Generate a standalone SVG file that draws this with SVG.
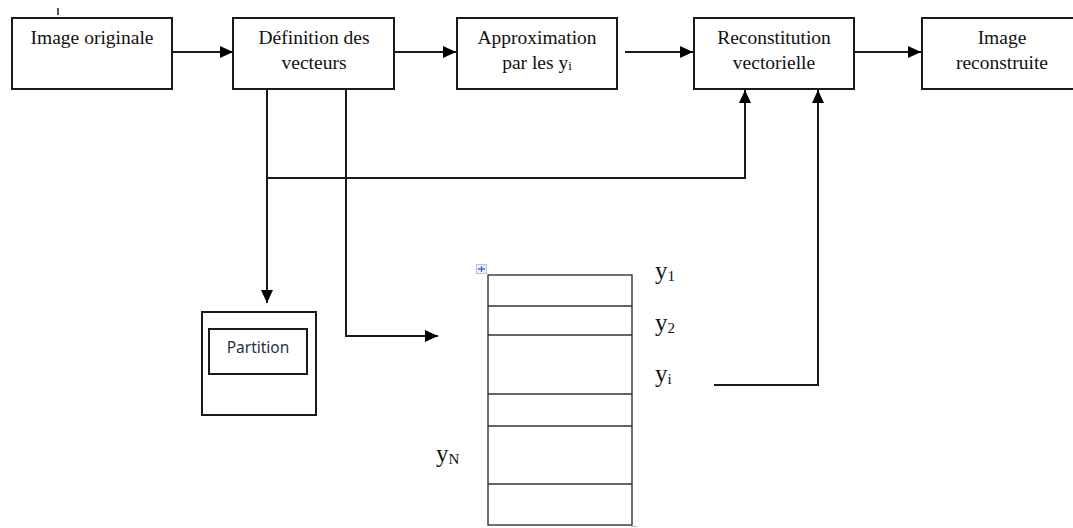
<svg xmlns="http://www.w3.org/2000/svg" width="1073" height="528" viewBox="0 0 1073 528">
  <defs>
    <marker id="arrow" viewBox="0 0 13 12" refX="13" refY="6" markerWidth="13" markerHeight="12" markerUnits="userSpaceOnUse" orient="auto">
      <path d="M0,0 L13,6 L0,12 Z" fill="#000"/>
    </marker>
    <style>
      .box { fill: #fff; stroke: #1a1a1a; stroke-width: 2; }
      .lbl { font-family: "Liberation Serif", "Times New Roman", serif; font-size: 19.5px; fill: #111; text-anchor: middle; }
      .sub { font-size: 13px; }
      .conn { fill: none; stroke: #1a1a1a; stroke-width: 2; }
      .row { fill: none; stroke: #333; stroke-width: 1.4; }
      .yl { font-family: "Liberation Serif", "Times New Roman", serif; font-size: 25px; fill: #111; }
      .ys { font-size: 15px; }
      .part { font-family: "Noto Sans", "Liberation Sans", sans-serif; font-size: 15.5px; fill: #26324a; text-anchor: middle; }
    </style>
  </defs>
  <rect width="1073" height="528" fill="#fff"/>

  <!-- small tick above first box -->
  <line x1="58" y1="8" x2="58" y2="15" stroke="#222" stroke-width="1.5"/>

  <g id="node-image-originale">
    <rect class="box" x="12" y="18" width="160" height="71"/>
    <text class="lbl" x="92" y="44">Image originale</text>
  </g>

  <g id="node-definition">
    <rect class="box" x="233" y="18" width="161" height="71"/>
    <text class="lbl" x="314" y="44">Définition des</text>
    <text class="lbl" x="314" y="69">vecteurs</text>
  </g>

  <g id="node-approximation">
    <rect class="box" x="457" y="18" width="160" height="71"/>
    <text class="lbl" x="537" y="44">Approximation</text>
    <text class="lbl" x="537" y="69">par les y<tspan class="sub" dy="1">i</tspan></text>
  </g>

  <g id="node-reconstitution">
    <rect class="box" x="694" y="18" width="160" height="71"/>
    <text class="lbl" x="774" y="44">Reconstitution</text>
    <text class="lbl" x="774" y="69">vectorielle</text>
  </g>

  <g id="node-image-reconstruite">
    <rect class="box" x="922" y="18" width="170" height="71"/>
    <text class="lbl" x="1002" y="44">Image</text>
    <text class="lbl" x="1002" y="69">reconstruite</text>
  </g>

  <g id="node-partition">
    <rect class="box" x="202" y="312" width="114" height="103"/>
    <rect class="box" x="209" y="329" width="98" height="45"/>
    <text class="part" x="258" y="353">Partition</text>
  </g>

  <g id="node-codebook">
    <!-- table move handle -->
    <rect x="476.5" y="264.5" width="10" height="9" fill="#eef2f8" stroke="#b8c4d6" stroke-width="1"/>
    <path d="M481.5,266 V272 M478,269 H485" stroke="#3a6fd0" stroke-width="1.3"/>
    <rect class="row" x="488" y="275" width="144" height="250"/>
    <line class="row" x1="488" y1="306" x2="632" y2="306"/>
    <line class="row" x1="488" y1="335" x2="632" y2="335"/>
    <line class="row" x1="488" y1="394" x2="632" y2="394"/>
    <line class="row" x1="488" y1="426" x2="632" y2="426"/>
    <line class="row" x1="488" y1="484" x2="632" y2="484"/>
    <line x1="631" y1="526.5" x2="637" y2="526.5" stroke="#bbb" stroke-width="1"/>
    <text class="yl" x="655" y="279">y<tspan class="ys" dy="2">1</tspan></text>
    <text class="yl" x="655" y="331">y<tspan class="ys" dy="2">2</tspan></text>
    <text class="yl" x="655" y="382">y<tspan class="ys" dy="2">i</tspan></text>
    <text class="yl" x="436" y="462">y<tspan class="ys" dy="2">N</tspan></text>
  </g>

  <g id="connectors">
    <line class="conn" x1="172" y1="52" x2="233" y2="52" marker-end="url(#arrow)"/>
    <line class="conn" x1="394" y1="52" x2="456" y2="52" marker-end="url(#arrow)"/>
    <line class="conn" x1="625" y1="52" x2="693" y2="52" marker-end="url(#arrow)"/>
    <line class="conn" x1="855" y1="52" x2="921" y2="52" marker-end="url(#arrow)"/>
    <!-- definition -> partition -->
    <line class="conn" x1="267" y1="89" x2="267" y2="303" marker-end="url(#arrow)"/>
    <!-- definition -> reconstitution (feedback) -->
    <polyline class="conn" points="267,178 745,178 745,90" marker-end="url(#arrow)"/>
    <!-- definition -> codebook -->
    <polyline class="conn" points="346,89 346,336 438,336" marker-end="url(#arrow)"/>
    <!-- yi -> reconstitution -->
    <polyline class="conn" points="714,385 818,385 818,90" marker-end="url(#arrow)"/>
  </g>
</svg>
